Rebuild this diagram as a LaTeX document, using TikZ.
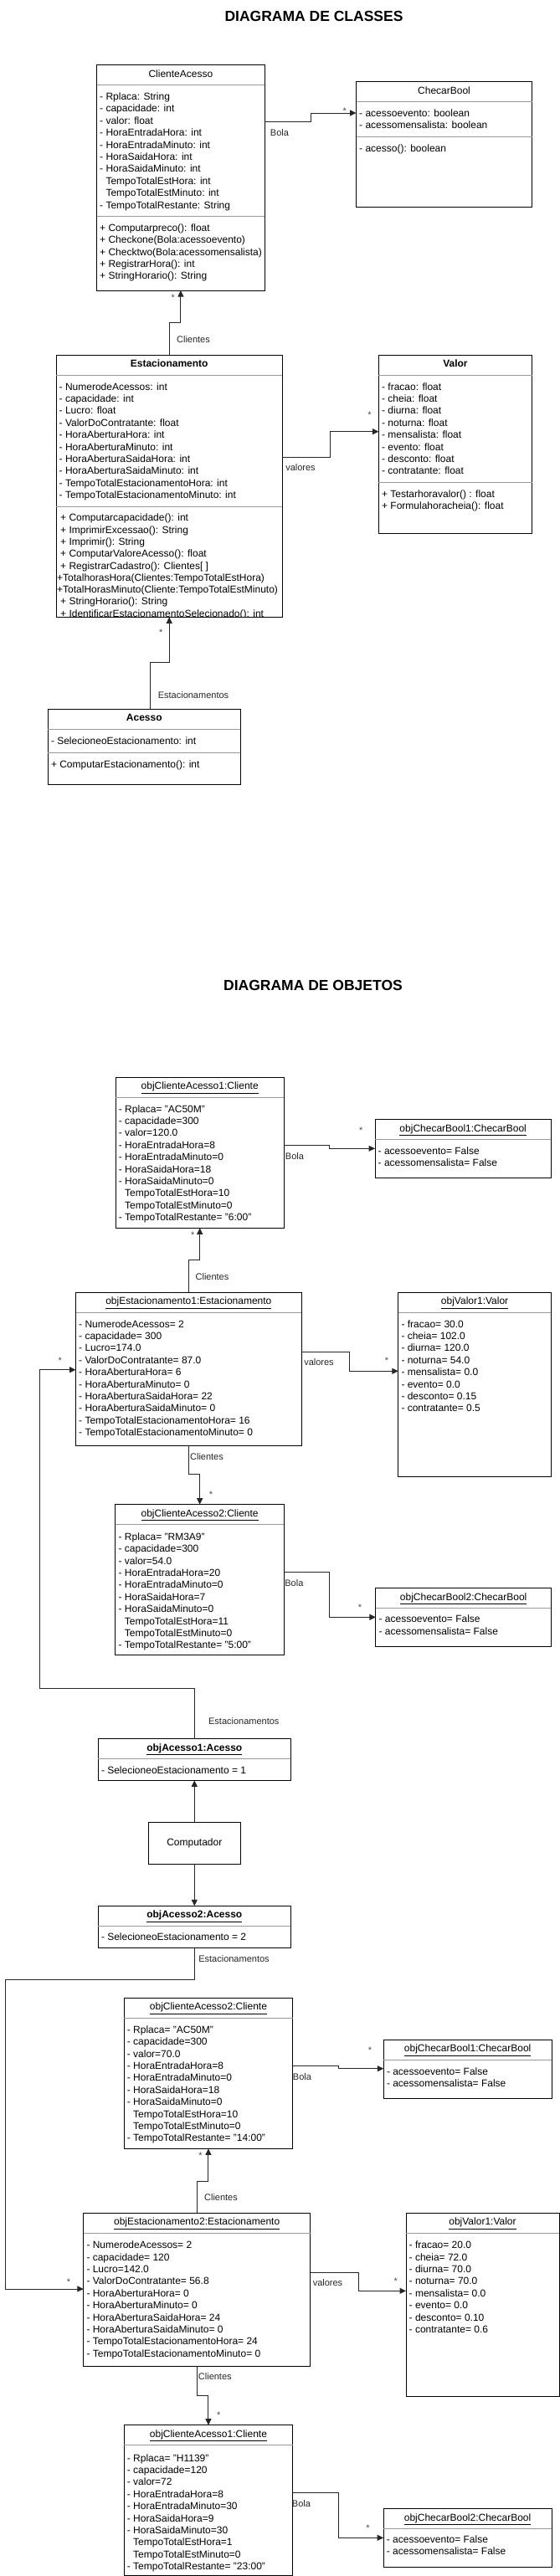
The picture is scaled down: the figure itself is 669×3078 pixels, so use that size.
\documentclass[tikz,border=0pt]{standalone}
\usepackage{fontspec}
\setmainfont{Liberation Sans}
\usepackage{tikz}
\usetikzlibrary{calc,arrows.meta}

\tikzset{
  umlbox/.style={draw=black, line width=1pt, inner sep=0pt, outer sep=0pt, anchor=north west,
    font=\fontsize{12pt}{14.4pt}\selectfont},
  sepline/.style={draw=black!40, line width=1pt},
  assoc/.style={draw=black!85, line width=1pt, -{Triangle[length=7.5pt,width=7pt]}},
  attrtxt/.style={anchor=base west, inner sep=0pt, font=\fontsize{12pt}{14.4pt}\selectfont},
  hdrtxt/.style={anchor=base, inner sep=0pt, font=\fontsize{12pt}{14.4pt}\selectfont},
  hdrbold/.style={anchor=base, inner sep=0pt, font=\fontsize{12pt}{14.4pt}\selectfont\bfseries},
  lbl/.style={anchor=base, inner sep=0pt, text=black!85, font=\fontsize{11pt}{13pt}\selectfont},
  mult/.style={anchor=base, inner sep=0pt, text=black!70, font=\fontsize{11pt}{13pt}\selectfont},
  titletxt/.style={anchor=base, inner sep=0pt, font=\fontsize{17.5pt}{21pt}\selectfont\bfseries},
}

\begin{document}
\begin{tikzpicture}[x=1pt, y=-1pt]
\useasboundingbox[fill=white] (0,0) rectangle (669,3078);

% diagrama de classes
\node[titletxt] (tcls) at (375,26) {DIAGRAMA DE CLASSES};

\node[umlbox, minimum width=200.8pt, minimum height=269.3pt] (ca) at (115.5,77.7) {};
\draw[sepline] ($(ca.north west)+(0,24)$) -- ($(ca.north east)+(0,24)$);
\draw[sepline] ($(ca.north west)+(0,181)$) -- ($(ca.north east)+(0,181)$);
\node[hdrtxt] (ca-h) at ($(ca.north)+(0,14.5)$) {ClienteAcesso};
\foreach \t [count=\i from 0] in {{- Rplaca: String},{- capacidade: int},{- valor: float},
    {- HoraEntradaHora: int},{- HoraEntradaMinuto: int},{- HoraSaidaHora: int},
    {- HoraSaidaMinuto: int},{\hphantom{-} TempoTotalEstHora: int},
    {\hphantom{-} TempoTotalEstMinuto: int},{- TempoTotalRestante: String}}
  \node[attrtxt] (ca-a\i) at ($(ca.north west)+(3.5,41.7+14.4*\i)$) {\t};
\foreach \t [count=\i from 0] in {{+ Computarpreco(): float},{+ Checkone(Bola:acessoevento)},
    {+ Checktwo(Bola:acessomensalista)},{+ RegistrarHora(): int},{+ StringHorario(): String}}
  \node[attrtxt] (ca-m\i) at ($(ca.north west)+(3.5,198.5+14.4*\i)$) {\t};

\node[umlbox, minimum width=210.1pt, minimum height=149.6pt] (cb) at (425.5,97.7) {};
\draw[sepline] ($(cb.north west)+(0,24)$) -- ($(cb.north east)+(0,24)$);
\draw[sepline] ($(cb.north west)+(0,65.8)$) -- ($(cb.north east)+(0,65.8)$);
\node[hdrtxt] (cb-h) at ($(cb.north)+(0,14.5)$) {ChecarBool};
\foreach \t [count=\i from 0] in {{- acessoevento: boolean},{- acessomensalista: boolean}}
  \node[attrtxt] (cb-a\i) at ($(cb.north west)+(3.5,41.7+14.4*\i)$) {\t};
\node[attrtxt] (cb-m0) at ($(cb.north west)+(3.5,83.3)$) {- acesso(): boolean};

\node[umlbox, minimum width=270.4pt, minimum height=313pt] (es) at (67,424.3) {};
\draw[sepline] ($(es.north west)+(0,24)$) -- ($(es.north east)+(0,24)$);
\draw[sepline] ($(es.north west)+(0,181)$) -- ($(es.north east)+(0,181)$);
\node[hdrbold] (es-h) at ($(es.north)+(0,14.5)$) {Estacionamento};
\foreach \t [count=\i from 0] in {{- NumerodeAcessos: int},{- capacidade: int},{- Lucro: float},
    {- ValorDoContratante: float},{- HoraAberturaHora: int},{- HoraAberturaMinuto: int},
    {- HoraAberturaSaidaHora: int},{- HoraAberturaSaidaMinuto: int},
    {- TempoTotalEstacionamentoHora: int},{- TempoTotalEstacionamentoMinuto: int}}
  \node[attrtxt] (es-a\i) at ($(es.north west)+(3.5,41.7+14.4*\i)$) {\t};
\begin{scope}
  \clip (es.north west) rectangle (es.south east);
  \foreach \t [count=\i from 0] in {{+ Computarcapacidade(): int},{+ ImprimirExcessao(): String},
      {+ Imprimir(): String},{+ ComputarValoreAcesso(): float},{+ RegistrarCadastro(): Clientes[ ]},
      {\kern-4pt+TotalhorasHora(Clientes:TempoTotalEstHora)},
      {\kern-4pt+TotalHorasMinuto(Cliente:TempoTotalEstMinuto)},
      {+ StringHorario(): String},{+ IdentificarEstacionamentoSelecionado(): int}}
    \node[attrtxt] (es-m\i) at ($(es.north west)+(5,198.5+14.3*\i)$) {\t};
\end{scope}

\node[umlbox, minimum width=183.1pt, minimum height=213pt] (va) at (452.4,424.3) {};
\draw[sepline] ($(va.north west)+(0,24)$) -- ($(va.north east)+(0,24)$);
\draw[sepline] ($(va.north west)+(0,152.2)$) -- ($(va.north east)+(0,152.2)$);
\node[hdrbold] (va-h) at ($(va.north)+(0,14.5)$) {Valor};
\foreach \t [count=\i from 0] in {{- fracao: float},{- cheia: float},{- diurna: float},
    {- noturna: float},{- mensalista: float},{- evento: float},{- desconto: float},
    {- contratante: float}}
  \node[attrtxt] (va-a\i) at ($(va.north west)+(3.5,41.7+14.4*\i)$) {\t};
\foreach \t [count=\i from 0] in {{+ Testarhoravalor() : float},{+ Formulahoracheia(): float}}
  \node[attrtxt] (va-m\i) at ($(va.north west)+(3.5,170.2+14.4*\i)$) {\t};

\node[umlbox, minimum width=230pt, minimum height=90pt] (ac) at (57.3,847.3) {};
\draw[sepline] ($(ac.north west)+(0,24)$) -- ($(ac.north east)+(0,24)$);
\draw[sepline] ($(ac.north west)+(0,51.7)$) -- ($(ac.north east)+(0,51.7)$);
\node[hdrbold] (ac-h) at ($(ac.north)+(0,14.5)$) {Acesso};
\node[attrtxt] (ac-a0) at ($(ac.north west)+(3.5,41.7)$) {- SelecioneoEstacionamento: int};
\node[attrtxt] (ac-m0) at ($(ac.north west)+(3.5,69.8)$) {+ ComputarEstacionamento(): int};

\draw[assoc] ($(ca.north east)+(0,67.3)$) -| (371,135) -- ($(cb.north west)+(0,37.3)$);
\draw[assoc] (es.north) |- ($(ca.south)+(0,38.5)$) -- (ca.south);
\draw[assoc] ($(es.north east)+(0,121.7)$) -| (394.5,515.7) -- ($(va.north west)+(0,91.4)$);
\draw[assoc] ($(ac.north)+(7,0)$) |- ($(es.south)+(0,54.4)$) -- (es.south);

\node[lbl] (l-bola) at (334,162) {Bola};
\node[mult] (m-bola) at (411.7,136.3) {*};
\node[lbl] (l-cli) at (231,409) {Clientes};
\node[mult] (m-cli) at (206.8,359.5) {*};
\node[lbl] (l-val) at (359,562.3) {valores};
\node[mult] (m-val) at (441.6,499.6) {*};
\node[lbl] (l-est) at (231,834) {Estacionamentos};
\node[mult] (m-est) at (192.3,759.3) {*};

% diagrama de objetos
\node[titletxt] (tobj) at (374,1183) {DIAGRAMA DE OBJETOS};

\node[umlbox, minimum width=201pt, minimum height=180pt] (oca1) at (138.2,1287.3) {};
\draw[sepline] ($(oca1.north west)+(0,24)$) -- ($(oca1.north east)+(0,24)$);
\node[hdrtxt] (oca1-h) at ($(oca1.north)+(0,14.5)$) {\underline{objClienteAcesso1:Cliente}};
\foreach \t [count=\i from 0] in {{- Rplaca= "AC50M"},{- capacidade=300},{- valor=120.0},
    {- HoraEntradaHora=8},{- HoraEntradaMinuto=0},{- HoraSaidaHora=18},{- HoraSaidaMinuto=0},
    {\hphantom{-} TempoTotalEstHora=10},{\hphantom{-} TempoTotalEstMinuto=0},
    {- TempoTotalRestante= "6:00"}}
  \node[attrtxt] (oca1-a\i) at ($(oca1.north west)+(3.5,41.7+14.4*\i)$) {\t};

\node[umlbox, minimum width=210.4pt, minimum height=69.6pt] (ocb1) at (448,1337.7) {};
\draw[sepline] ($(ocb1.north west)+(0,24)$) -- ($(ocb1.north east)+(0,24)$);
\node[hdrtxt] (ocb1-h) at ($(ocb1.north)+(0,14.5)$) {\underline{objChecarBool1:ChecarBool}};
\foreach \t [count=\i from 0] in {{- acessoevento= False},{- acessomensalista= False}}
  \node[attrtxt] (ocb1-a\i) at ($(ocb1.north west)+(3.5,41.7+14.4*\i)$) {\t};

\node[umlbox, minimum width=269.7pt, minimum height=183pt] (oes1) at (90.5,1544.3) {};
\draw[sepline] ($(oes1.north west)+(0,24)$) -- ($(oes1.north east)+(0,24)$);
\node[hdrtxt] (oes1-h) at ($(oes1.north)+(0,14.5)$) {\underline{objEstacionamento1:Estacionamento}};
\foreach \t [count=\i from 0] in {{- NumerodeAcessos= 2},{- capacidade= 300},{- Lucro=174.0},
    {- ValorDoContratante= 87.0},{- HoraAberturaHora= 6},{- HoraAberturaMinuto= 0},
    {- HoraAberturaSaidaHora= 22},{- HoraAberturaSaidaMinuto= 0},
    {- TempoTotalEstacionamentoHora= 16},{- TempoTotalEstacionamentoMinuto= 0}}
  \node[attrtxt] (oes1-a\i) at ($(oes1.north west)+(3.5,41.7+14.4*\i)$) {\t};

\node[umlbox, minimum width=182.6pt, minimum height=220pt] (ova1) at (475.8,1544.3) {};
\draw[sepline] ($(ova1.north west)+(0,24)$) -- ($(ova1.north east)+(0,24)$);
\node[hdrtxt] (ova1-h) at ($(ova1.north)+(0,14.5)$) {\underline{objValor1:Valor}};
\foreach \t [count=\i from 0] in {{- fracao= 30.0},{- cheia= 102.0},{- diurna= 120.0},
    {- noturna= 54.0},{- mensalista= 0.0},{- evento= 0.0},{- desconto= 0.15},{- contratante= 0.5}}
  \node[attrtxt] (ova1-a\i) at ($(ova1.north west)+(3.5,41.7+14.4*\i)$) {\t};

\node[umlbox, minimum width=201.5pt, minimum height=179.6pt] (oca2) at (137.9,1797.7) {};
\draw[sepline] ($(oca2.north west)+(0,24)$) -- ($(oca2.north east)+(0,24)$);
\node[hdrtxt] (oca2-h) at ($(oca2.north)+(0,14.5)$) {\underline{objClienteAcesso2:Cliente}};
\foreach \t [count=\i from 0] in {{- Rplaca= "RM3A9"},{- capacidade=300},{- valor=54.0},
    {- HoraEntradaHora=20},{- HoraEntradaMinuto=0},{- HoraSaidaHora=7},{- HoraSaidaMinuto=0},
    {\hphantom{-} TempoTotalEstHora=11},{\hphantom{-} TempoTotalEstMinuto=0},
    {- TempoTotalRestante= "5:00"}}
  \node[attrtxt] (oca2-a\i) at ($(oca2.north west)+(3.5,42.5+14.4*\i)$) {\t};

\node[umlbox, minimum width=209.5pt, minimum height=69.6pt] (ocb2) at (448.9,1897.7) {};
\draw[sepline] ($(ocb2.north west)+(0,24)$) -- ($(ocb2.north east)+(0,24)$);
\node[hdrtxt] (ocb2-h) at ($(ocb2.north)+(0,14.5)$) {\underline{objChecarBool2:ChecarBool}};
\foreach \t [count=\i from 0] in {{- acessoevento= False},{- acessomensalista= False}}
  \node[attrtxt] (ocb2-a\i) at ($(ocb2.north west)+(3.5,41.2+14.4*\i)$) {\t};

\node[umlbox, minimum width=230pt, minimum height=49.6pt] (oac1) at (117.3,2077.7) {};
\draw[sepline] ($(oac1.north west)+(0,24)$) -- ($(oac1.north east)+(0,24)$);
\node[hdrbold] (oac1-h) at ($(oac1.north)+(0,14.5)$) {\underline{objAcesso1:Acesso}};
\node[attrtxt] (oac1-a0) at ($(oac1.north west)+(3.5,41.6)$) {- SelecioneoEstacionamento = 1};

\node[umlbox, minimum width=110pt, minimum height=50pt] (comp) at (177.3,2177.3) {Computador};

\node[umlbox, minimum width=230pt, minimum height=50pt] (oac2) at (117.3,2277.3) {};
\draw[sepline] ($(oac2.north west)+(0,24)$) -- ($(oac2.north east)+(0,24)$);
\node[hdrbold] (oac2-h) at ($(oac2.north)+(0,14.5)$) {\underline{objAcesso2:Acesso}};
\node[attrtxt] (oac2-a0) at ($(oac2.north west)+(3.5,41.6)$) {- SelecioneoEstacionamento = 2};

\node[umlbox, minimum width=201.5pt, minimum height=180pt] (oca2b) at (148.2,2387.3) {};
\draw[sepline] ($(oca2b.north west)+(0,24)$) -- ($(oca2b.north east)+(0,24)$);
\node[hdrtxt] (oca2b-h) at ($(oca2b.north)+(0,14.5)$) {\underline{objClienteAcesso2:Cliente}};
\foreach \t [count=\i from 0] in {{- Rplaca= "AC50M"},{- capacidade=300},{- valor=70.0},
    {- HoraEntradaHora=8},{- HoraEntradaMinuto=0},{- HoraSaidaHora=18},{- HoraSaidaMinuto=0},
    {\hphantom{-} TempoTotalEstHora=10},{\hphantom{-} TempoTotalEstMinuto=0},
    {- TempoTotalRestante= "14:00"}}
  \node[attrtxt] (oca2b-a\i) at ($(oca2b.north west)+(3.5,42+14.4*\i)$) {\t};

\node[umlbox, minimum width=200.7pt, minimum height=70pt] (ocb1b) at (458.3,2437.3) {};
\draw[sepline] ($(ocb1b.north west)+(0,24)$) -- ($(ocb1b.north east)+(0,24)$);
\node[hdrtxt] (ocb1b-h) at ($(ocb1b.north)+(0,14.5)$) {\underline{objChecarBool1:ChecarBool}};
\foreach \t [count=\i from 0] in {{- acessoevento= False},{- acessomensalista= False}}
  \node[attrtxt] (ocb1b-a\i) at ($(ocb1b.north west)+(3.5,41.7+14.4*\i)$) {\t};

\node[umlbox, minimum width=270.7pt, minimum height=183pt] (oes2) at (99.8,2644.3) {};
\draw[sepline] ($(oes2.north west)+(0,24)$) -- ($(oes2.north east)+(0,24)$);
\node[hdrtxt] (oes2-h) at ($(oes2.north)+(0,14.5)$) {\underline{objEstacionamento2:Estacionamento}};
\foreach \t [count=\i from 0] in {{- NumerodeAcessos= 2},{- capacidade= 120},{- Lucro=142.0},
    {- ValorDoContratante= 56.8},{- HoraAberturaHora= 0},{- HoraAberturaMinuto= 0},
    {- HoraAberturaSaidaHora= 24},{- HoraAberturaSaidaMinuto= 0},
    {- TempoTotalEstacionamentoHora= 24},{- TempoTotalEstacionamentoMinuto= 0}}
  \node[attrtxt] (oes2-a\i) at ($(oes2.north west)+(3.5,42.3+14.4*\i)$) {\t};

\node[umlbox, minimum width=183pt, minimum height=219pt] (ova2) at (485,2644.3) {};
\draw[sepline] ($(ova2.north west)+(0,24)$) -- ($(ova2.north east)+(0,24)$);
\node[hdrtxt] (ova2-h) at ($(ova2.north)+(0,14.5)$) {\underline{objValor1:Valor}};
\foreach \t [count=\i from 0] in {{- fracao= 20.0},{- cheia= 72.0},{- diurna= 70.0},
    {- noturna= 70.0},{- mensalista= 0.0},{- evento= 0.0},{- desconto= 0.10},{- contratante= 0.6}}
  \node[attrtxt] (ova2-a\i) at ($(ova2.north west)+(3.5,42.3+14.4*\i)$) {\t};

\node[umlbox, minimum width=201.5pt, minimum height=179.6pt] (oca1b) at (148.2,2897.7) {};
\draw[sepline] ($(oca1b.north west)+(0,24)$) -- ($(oca1b.north east)+(0,24)$);
\node[hdrtxt] (oca1b-h) at ($(oca1b.north)+(0,14.5)$) {\underline{objClienteAcesso1:Cliente}};
\foreach \t [count=\i from 0] in {{- Rplaca= "H1139"},{- capacidade=120},{- valor=72},
    {- HoraEntradaHora=8},{- HoraEntradaMinuto=30},{- HoraSaidaHora=9},{- HoraSaidaMinuto=30},
    {\hphantom{-} TempoTotalEstHora=1},{\hphantom{-} TempoTotalEstMinuto=0},
    {- TempoTotalRestante= "23:00"}}
  \node[attrtxt] (oca1b-a\i) at ($(oca1b.north west)+(3.5,43.3+14.4*\i)$) {\t};

\node[umlbox, minimum width=200.8pt, minimum height=69.6pt] (ocb2b) at (458.2,2997.7) {};
\draw[sepline] ($(ocb2b.north west)+(0,24)$) -- ($(ocb2b.north east)+(0,24)$);
\node[hdrtxt] (ocb2b-h) at ($(ocb2b.north)+(0,14.5)$) {\underline{objChecarBool2:ChecarBool}};
\foreach \t [count=\i from 0] in {{- acessoevento= False},{- acessomensalista= False}}
  \node[attrtxt] (ocb2b-a\i) at ($(ocb2b.north west)+(3.5,40.6+14.4*\i)$) {\t};

\draw[assoc] ($(oca1.north east)+(0,81.4)$) -| (393.5,1372.3) -- ($(ocb1.north west)+(0,34.6)$);
\draw[assoc] (oes1.north) |- ($(oca1.south)+(0,38.2)$) -- (oca1.south);
\draw[assoc] ($(oes1.north east)+(0,71.4)$) -| (417.8,1638.3) -- ($(ova1.north west)+(0,94)$);
\draw[assoc] (oes1.south) |- ($(oca2.north)+(0,-36)$) -- (oca2.north);
\draw[assoc] ($(oca2.north east)+(0,80.6)$) -| (393.8,1932.3) -- ($(ocb2.north west)+(0,34.6)$);
\draw[assoc] (oac1.north) |- (47,2017.3) |- ($(oes1.north west)+(0,92.4)$);
\draw[assoc] (comp.north) -- (oac1.south);
\draw[assoc] (comp.south) -- (oac2.north);
\draw[assoc] (oac2.south) |- (6.3,2365) |- ($(oes2.north west)+(0,90.7)$);
\draw[assoc] ($(oca2b.north east)+(0,81)$) -| (404,2471.7) -- ($(ocb1b.north west)+(0,34.4)$);
\draw[assoc] (oes2.north) |- ($(oca2b.south)+(0,39.4)$) -- (oca2b.south);
\draw[assoc] ($(oes2.north east)+(0,70.7)$) -| (428.6,2737.3) -- ($(ova2.north west)+(0,93)$);
\draw[assoc] (oes2.south) |- ($(oca1b.north)+(0,-35.4)$) -- (oca1b.north);
\draw[assoc] ($(oca1b.north east)+(0,80.6)$) -| (404,3032.3) -- ($(ocb2b.north west)+(0,34.6)$);

\node[mult] (m-ob1) at (431.3,1354.6) {*};
\node[lbl] (l-ob1) at (352,1385) {Bola};
\node[mult] (m-oc1) at (230.3,1479) {*};
\node[lbl] (l-oc1) at (253.5,1529) {Clientes};
\node[lbl] (l-ov1) at (381,1631.7) {valores};
\node[mult] (m-ov1) at (462,1629) {*};
\node[mult] (m-oe1) at (71.8,1629.6) {*};
\node[lbl] (l-oc2) at (247,1744) {Clientes};
\node[mult] (m-oc2) at (252,1789.6) {*};
\node[lbl] (l-ob2) at (351.4,1895) {Bola};
\node[mult] (m-ob2) at (430,1924.6) {*};
\node[lbl] (l-oe1) at (291.3,2060.7) {Estacionamentos};
\node[lbl] (l-oe2) at (279.5,2344) {Estacionamentos};
\node[mult] (m-oe2) at (82,2730.3) {*};
\node[mult] (m-ob3) at (442,2453.6) {*};
\node[lbl] (l-ob3) at (361,2485) {Bola};
\node[mult] (m-oc3) at (239.5,2579.6) {*};
\node[lbl] (l-oc3) at (264,2629) {Clientes};
\node[lbl] (l-ov2) at (391.5,2731.7) {valores};
\node[mult] (m-ov2) at (472.8,2729.6) {*};
\node[lbl] (l-oc4) at (256.8,2843.3) {Clientes};
\node[mult] (m-oc4) at (261.2,2889.6) {*};
\node[lbl] (l-ob4) at (360,2995) {Bola};
\node[mult] (m-ob4) at (439.6,3024.6) {*};
\end{tikzpicture}
\end{document}
